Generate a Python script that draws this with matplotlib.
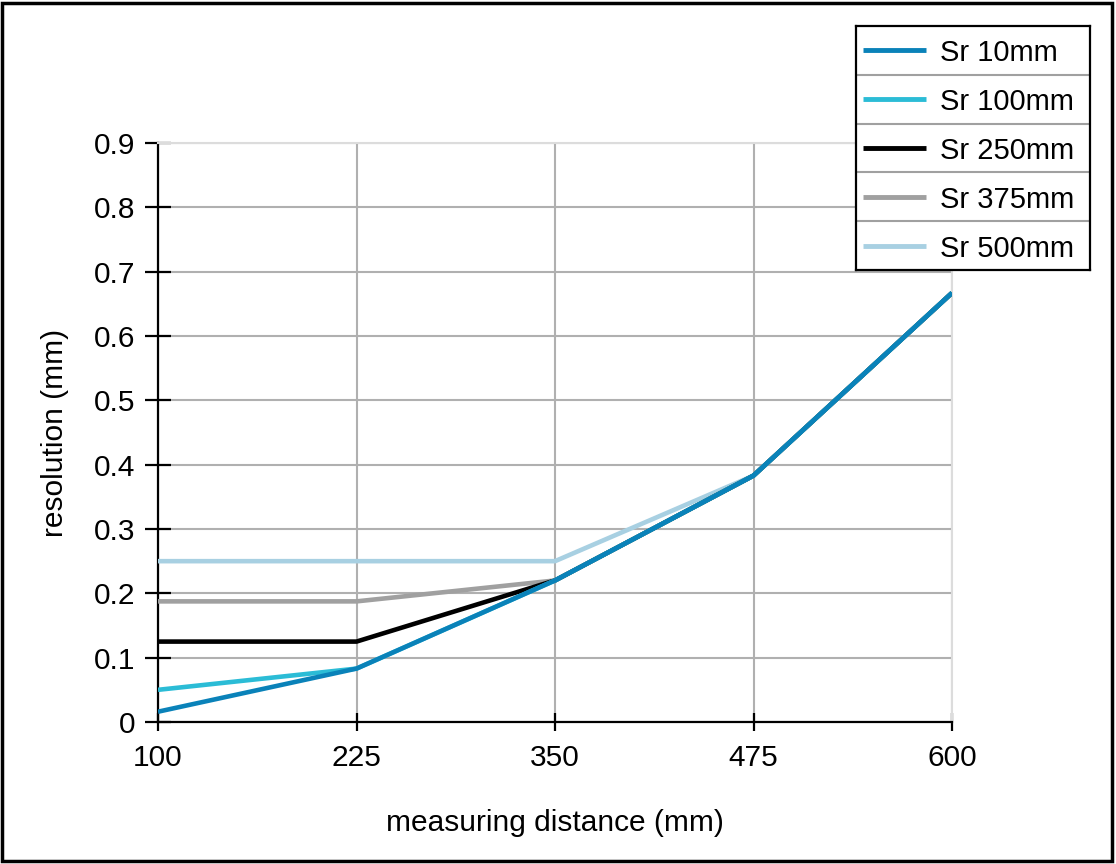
import matplotlib
matplotlib.use("Agg")
import matplotlib.pyplot as plt
from matplotlib.patches import Rectangle

plt.rcParams["font.family"] = ["Liberation Sans", "DejaVu Sans"]

# data
distance = [100, 225, 350, 475, 600]
sr_10 = [0.016, 0.083, 0.22, 0.383, 0.667]
sr_100 = [0.05, 0.083, 0.22, 0.383, 0.667]
sr_250 = [0.125, 0.125, 0.22, 0.383, 0.667]
sr_375 = [0.1875, 0.1875, 0.22, 0.383, 0.667]
sr_500 = [0.25, 0.25, 0.25, 0.383, 0.667]

labels = ["Sr 10mm", "Sr 100mm", "Sr 250mm", "Sr 375mm", "Sr 500mm"]
series = [sr_10, sr_100, sr_250, sr_375, sr_500]
colors = ["#0a82b9", "#2bbcd6", "#000000", "#a0a0a0", "#a8d0e2"]

y_ticks = [0, 0.1, 0.2, 0.3, 0.4, 0.5, 0.6, 0.7, 0.8, 0.9]
y_tick_labels = ["0", "0.1", "0.2", "0.3", "0.4", "0.5", "0.6", "0.7", "0.8", "0.9"]

fig = plt.figure(figsize=(11.16, 8.64), dpi=100)
ax = fig.add_axes([158 / 1116, 1 - 722 / 864, 794 / 1116, 579 / 864])

# last series at the bottom, Sr 10mm on top
for i in reversed(range(len(series))):
    ax.plot(distance, series[i], color=colors[i], lw=3.3, solid_capstyle="butt",
            zorder=3 + (len(series) - i) * 0.1)

ax.set_xlim(100, 600)
ax.set_ylim(0, 0.9)
ax.set_xticks(distance)
ax.set_yticks(y_ticks)
ax.set_yticklabels(y_tick_labels)
ax.grid(True, color="#b0b0b0", lw=1.5, zorder=1)

for side in ["left", "bottom"]:
    ax.spines[side].set_color("black")
    ax.spines[side].set_linewidth(1.6)
for side in ["top", "right"]:
    ax.spines[side].set_color("#dcdcdc")
    ax.spines[side].set_linewidth(1.5)

ax.tick_params(axis="y", direction="inout", length=19, width=1.6, labelsize=21.5, pad=7)
ax.tick_params(axis="x", direction="inout", length=13, width=1.6, labelsize=21.5, pad=9)

ax.set_xlabel("measuring distance (mm)", fontsize=21.5, labelpad=27)
ax.set_ylabel("resolution (mm)", fontsize=21.5, labelpad=18)

# table style legend box
lax = fig.add_axes([856 / 1116, 1 - 270 / 864, 234 / 1116, 244 / 864])
lax.set_xlim(0, 1)
lax.set_ylim(0, len(labels))
lax.set_xticks([])
lax.set_yticks([])
for s in lax.spines.values():
    s.set_linewidth(1.6)
for i, (lab, c) in enumerate(zip(labels, colors)):
    row = len(labels) - i - 0.5
    lax.plot([0.03, 0.3], [row, row], color=c, lw=3.5, solid_capstyle="butt")
    lax.text(0.36, row - 0.06, lab, fontsize=21, va="center", ha="left")
    if i > 0:
        lax.axhline(len(labels) - i, color="#a0a0a0", lw=1.5)

fig.patches.append(Rectangle((0.002, 0.003), 0.994, 0.994, transform=fig.transFigure,
                             fill=False, edgecolor="black", lw=2.5))

fig.savefig("out.png", dpi=100)
